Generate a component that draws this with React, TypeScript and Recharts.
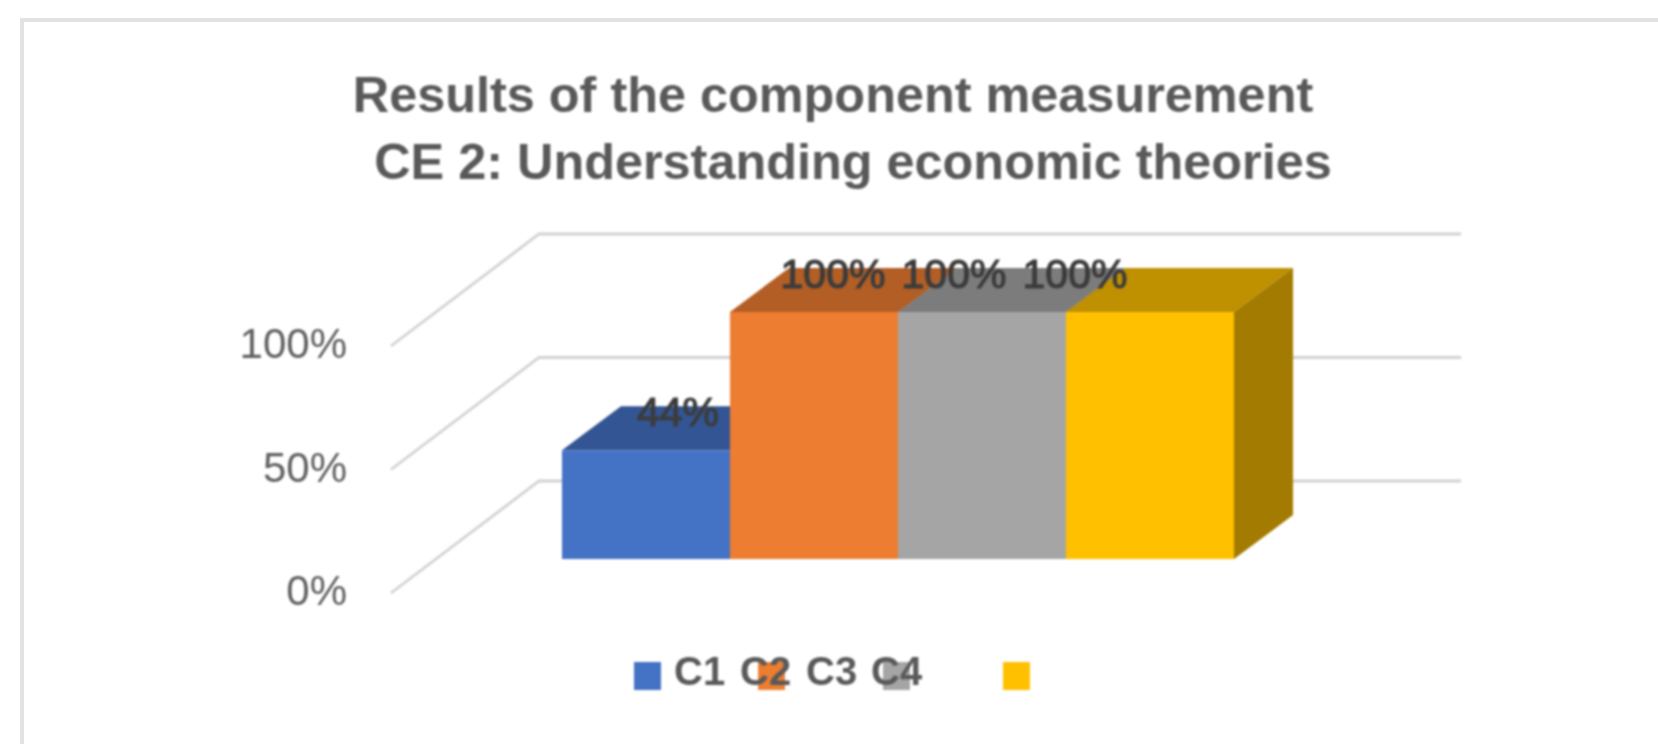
import React from "react"
import { BarChart, Bar, XAxis, YAxis, Legend, LabelList, CartesianGrid } from "recharts"

const categories = ["CE 2"]
const c1Values = [44]
const c2Values = [100]
const c3Values = [100]
const c4Values = [100]
const seriesNames = ["C1", "C2", "C3", "C4"]
const yTicks = [0, 50, 100]
const titleLines = ["Results of the component measurement", "CE 2: Understanding economic theories"]

const frontColors = ["#4472C4", "#ED7D31", "#A5A5A5", "#FFC000"]
const topColors = ["#335593", "#B25E25", "#7C7C7C", "#BF9000"]
const sideColors = ["#2A4A82", "#9A5020", "#6A6A6A", "#A37B00"]

const rows = categories.map((name, i) => ({
  name,
  C1: c1Values[i],
  C2: c2Values[i],
  C3: c3Values[i],
  C4: c4Values[i],
}))

// layout of the fake 3d box, in pixels
const FONT = "'Liberation Sans', Arial, sans-serif"
const BAR_DX = 59
const BAR_DY = 44
const LABEL_SHIFT = [32, 19, -28, -75]
const LEGEND_SWATCH = [634, 758, 883, 1003]
const LEGEND_TEXT = [674, 740, 806, 871]

function makeBarShape(idx: number) {
  return function BarShape(props: any) {
    const { x, y, width, height } = props
    const r = x + width
    const b = y + height
    return (
      <g>
        <polygon
          points={`${x},${y} ${x + BAR_DX},${y - BAR_DY} ${r + BAR_DX},${y - BAR_DY} ${r},${y}`}
          fill={topColors[idx]}
        />
        <polygon
          points={`${r},${y} ${r + BAR_DX},${y - BAR_DY} ${r + BAR_DX},${b - BAR_DY} ${r},${b}`}
          fill={sideColors[idx]}
        />
        <rect x={x} y={y} width={width} height={height} fill={frontColors[idx]} />
      </g>
    )
  }
}

function makeValueLabel(idx: number) {
  return function ValueLabel(props: any) {
    const { x, y, width, value } = props
    return (
      <text
        x={x + width / 2 + LABEL_SHIFT[idx]}
        y={y - 24}
        textAnchor="middle"
        fontFamily={FONT}
        fontSize={41}
        fill="#3C3C3C"
        stroke="#3C3C3C"
        strokeWidth={1.2}
      >
        {value}%
      </text>
    )
  }
}

// gridline on the back wall with its floor diagonal
function WallLine({ y1 }: any) {
  return (
    <polyline
      points={`391,${y1 + 34} 539,${y1 - 78} 1461,${y1 - 78}`}
      fill="none"
      stroke="#D2D2D2"
      strokeWidth={2.8}
    />
  )
}

function WallTick({ y, payload }: any) {
  return (
    <text x={347} y={y + 46} textAnchor="end" fontFamily={FONT} fontSize={42} fill="#606060">
      {payload.value}%
    </text>
  )
}

function LegendRow({ payload }: any) {
  return (
    <svg width={1658} height={744} style={{ position: "absolute", left: 0, top: 0, overflow: "visible" }}>
      {(payload || []).map((p: any, i: number) => (
        <rect key={"s" + i} x={LEGEND_SWATCH[i]} y={662} width={27} height={28} fill={p.color} />
      ))}
      {(payload || []).map((p: any, i: number) => (
        <text key={"t" + i} x={LEGEND_TEXT[i]} y={685} fontFamily={FONT} fontSize={40} fontWeight={700} fill="#595959">
          {p.value}
        </text>
      ))}
    </svg>
  )
}

export default function App() {
  return (
    <div style={{ position: "absolute", left: 0, top: 0, width: 1658, height: 744, background: "#fff", overflow: "hidden" }}>
      <div
        style={{
          position: "absolute",
          left: 20,
          top: 18,
          width: 1640,
          height: 730,
          borderLeft: "4px solid #E2E2E2",
          borderTop: "4px solid #E2E2E2",
        }}
      />
      <div style={{ position: "absolute", left: 0, top: 0, filter: "blur(0.8px)" }}>
        <BarChart
          width={1658}
          height={744}
          data={rows}
          barGap={0}
          barCategoryGap={0}
          margin={{ top: 312, right: 424, bottom: 185, left: 392 }}
        >
          <text x={833} y={112} textAnchor="middle" fontFamily={FONT} fontSize={50.4} fontWeight={700} fill="#595959">
            {titleLines[0]}
          </text>
          <text x={853} y={179} textAnchor="middle" fontFamily={FONT} fontSize={50.4} fontWeight={700} fill="#595959">
            {titleLines[1]}
          </text>
          <CartesianGrid vertical={false} horizontal={<WallLine />} />
          <XAxis dataKey="name" hide />
          <YAxis
            width={170}
            domain={[0, 100]}
            ticks={yTicks}
            axisLine={false}
            tickLine={false}
            tick={<WallTick />}
            interval={0}
          />
          <Legend
            content={<LegendRow />}
            height={0}
            wrapperStyle={{ position: "absolute", left: 0, top: 0, width: 0, height: 0 }}
          />
          {seriesNames.map((s, i) => (
            <Bar key={s} dataKey={s} name={s} fill={frontColors[i]} shape={makeBarShape(i)} isAnimationActive={false}>
              <LabelList dataKey={s} content={makeValueLabel(i)} />
            </Bar>
          ))}
        </BarChart>
      </div>
    </div>
  )
}
